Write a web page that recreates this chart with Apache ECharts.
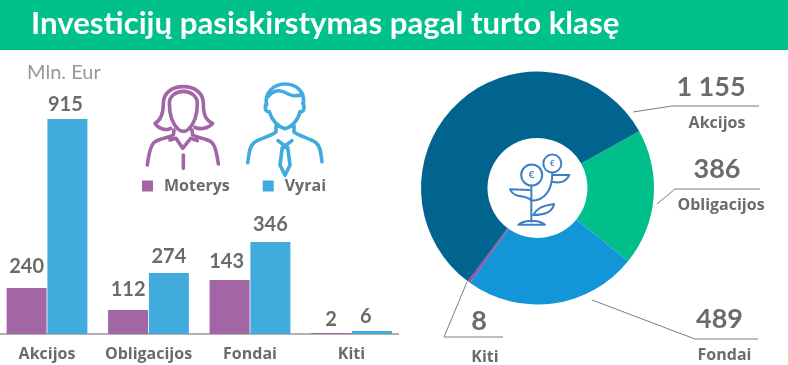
<!DOCTYPE html>
<html><head><meta charset="utf-8">
<style>html,body{margin:0;padding:0;background:#fff}#c{width:788px;height:365px}</style>
<script src="https://cdn.jsdelivr.net/npm/echarts@6/dist/echarts.min.js"></script>
</head><body><div id="c"></div>
<script>
const titleText = 'Investicijų pasiskirstymas pagal turto klasę';
const unitText = 'Mln. Eur';
const categories = ['Akcijos', 'Obligacijos', 'Fondai', 'Kiti'];
const seriesNames = ['Moterys', 'Vyrai'];
// printed values
const womenValues = [240, 112, 143, 2];
const menValues = [915, 274, 346, 6];
// the reference's bars are not proportional to their printed values: these are the drawn heights
const womenDrawn = [196, 102, 230, 4];
const menDrawn = [915, 260, 391, 13];
// donut
const pieNames = ['Obligacijos', 'Fondai', 'Kiti', 'Akcijos'];
const pieValues = [386, 489, 8, 1155];
const pieText = ['386', '489', '8', '1 155'];

const GREY = '#6d6b6a', NUM = 'Lato', TXT = 'Open Sans', WOMAN = '#A266A6', MAN = '#41ABDE', PLANT = '#3b7fc4';
const pieColors = ['#00BF8A', '#1296D8', '#9B4FA0', '#00648F'];
// label anchor centre, and the horizontal shift of the name under the number
const pieLabelPos = [[717, 187, 4], [719.5, 337, 5], [479, 339, 6], [711, 105, 6]];
const womenLabelShift = [[0, -5], [0, -4], [-3, -2], [0, 2]];
const menLabelShift = [[-2, 2], [0, 0], [0, -2], [-6, 2]];
const womanIcon = 'M105 160C125 150 130 130 130 100C130 70 155 50 190 50C225 50 250 70 250 100C250 130 255 150 278 160C265 175 240 180 225 172M105 160C115 178 140 182 152 175M148 100C148 78 168 64 190 64C212 64 232 78 232 100C232 130 225 160 205 178C195 186 185 186 175 178C155 160 148 130 148 100M82 285C85 260 90 225 105 215C120 205 140 205 160 195L162 180M295 282C292 260 288 225 273 215C258 205 238 205 218 195L216 180M150 210L168 205L188 235L212 205L232 212M190 255L190 295';
const manIcon = 'M440 105C432 70 460 42 495 42C530 42 556 65 550 105M442 82C470 50 490 65 505 72C520 80 535 78 548 72M440 100C433 108 435 128 448 125C455 150 475 172 495 176C515 172 535 150 540 125C553 128 555 108 548 100M468 168L468 186C450 200 420 205 402 218C388 228 388 250 383 278M522 168L522 186C540 200 570 205 588 218C602 228 602 250 606 275M474 212L495 228L516 212M487 232L480 285L495 316L510 285L503 232Z';
const plantIcon = 'M184 167L184 275M184 212C225 212 247 180 247 128M184 212C170 190 135 210 120 178L178 180M190 255C205 222 245 225 252 222C248 245 225 255 190 255M247 156C262 158 285 162 298 135L250 135M145 284C165 268 205 268 225 284Z';

echarts.graphic.registerShape('womanIcon', echarts.graphic.extendPath(womanIcon, {}));
echarts.graphic.registerShape('manIcon', echarts.graphic.extendPath(manIcon, {}));
echarts.graphic.registerShape('plantIcon', echarts.graphic.extendPath(plantIcon, {}));

const chart = echarts.init(document.getElementById('c'));
const pieData = pieNames.map((name, i) => ({
  name, value: pieValues[i], itemStyle: {color: pieColors[i]},
  label: {rich: {
    v: {fontFamily: NUM, fontWeight: 700, fontSize: 27, color: GREY, lineHeight: 37},
    n: {fontFamily: TXT, fontWeight: 700, fontSize: 16, color: GREY, lineHeight: 36, padding: [0, 0, 0, pieLabelPos[i][2] * 2]}
  }}
}));
const barData = (drawn, shift) => drawn.map((value, i) => ({value, label: {offset: shift[i]}}));
const barLabel = texts => ({
  show: true, position: 'top', distance: 6, fontFamily: NUM, fontWeight: 700, fontSize: 20, color: GREY,
  formatter: p => String(texts[p.dataIndex])
});
const line = pts => ({type: 'polyline', silent: true, shape: {points: pts}, style: {stroke: '#7d7b7a', fill: null, lineWidth: 1}});
const icon = (type, x, y, color, lw) => ({type, silent: true, x, y, scaleX: 1 / 3, scaleY: 1 / 3,
  style: {stroke: color, fill: null, lineWidth: lw * 3, lineCap: 'round', lineJoin: 'round'}});

chart.setOption({
  animation: false,
  title: [
    {text: titleText, left: 31, top: 8, padding: 0, textStyle: {color: '#fff', fontFamily: NUM, fontWeight: 700, fontSize: 31.2}},
    {text: unitText, left: 27, top: 63, padding: 0, textStyle: {color: '#9a9896', fontFamily: NUM, fontWeight: 400, fontSize: 20}}
  ],
  legend: {left: 142, top: 178, padding: 0, itemWidth: 11, itemHeight: 11, itemGap: 33, icon: 'rect',
    data: seriesNames, selectedMode: false,
    textStyle: {fontFamily: TXT, fontWeight: 700, fontSize: 16, color: GREY, padding: [0, 0, 0, 6]}},
  grid: {left: -3.75, width: 406, top: 99, height: 235, outerBoundsMode: 'none'},
  xAxis: {type: 'category', data: categories, axisLine: {show: false}, axisTick: {show: false},
    axisLabel: {fontFamily: TXT, fontWeight: 700, fontSize: 16, color: GREY, margin: 12, interval: 0}},
  yAxis: {type: 'value', min: 0, max: 1000, show: false},
  series: [
    {type: 'bar', name: seriesNames[0], data: barData(womenDrawn, womenLabelShift), barWidth: 40, barGap: '2%', itemStyle: {color: WOMAN}, label: barLabel(womenValues)},
    {type: 'bar', name: seriesNames[1], data: barData(menDrawn, menLabelShift), barWidth: 40, itemStyle: {color: MAN}, label: barLabel(menValues)},
    {type: 'pie', center: [537.5, 188], radius: [50, 116.5], startAngle: 29.2, clockwise: true, silent: true,
      avoidLabelOverlap: false, data: pieData,
      label: {show: true, position: 'outside', align: 'center', verticalAlign: 'middle',
        formatter: p => '{v|' + pieText[p.dataIndex] + '}\n{n|' + p.name + '}'},
      labelLine: {show: false},
      labelLayout: p => ({x: pieLabelPos[p.dataIndex][0], y: pieLabelPos[p.dataIndex][1], align: 'center', verticalAlign: 'middle'})}
  ],
  graphic: [
    {type: 'rect', z: 0, silent: true, shape: {x: 0, y: 0, width: 788, height: 50}, style: {fill: '#00C08B'}},
    {type: 'line', silent: true, shape: {x1: 0, y1: 334, x2: 399, y2: 334}, style: {stroke: '#b4b2b1', lineWidth: 2}},
    line([[633, 112], [672, 106], [759, 106]]),
    line([[657, 204], [675, 189], [760, 189]]),
    line([[592, 300], [695, 339], [758, 339]]),
    line([[467, 282], [444, 337], [503, 337]]),
    icon('womanIcon', 120, 70, WOMAN, 3.6),
    icon('manIcon', 120, 70, MAN, 3.6),
    icon('plantIcon', 470, 130, PLANT, 2),
    {type: 'circle', silent: true, shape: {cx: 531.7, cy: 175, r: 10.5}, style: {stroke: PLANT, fill: '#fff', lineWidth: 2}},
    {type: 'circle', silent: true, shape: {cx: 552.3, cy: 163.5, r: 9}, style: {stroke: PLANT, fill: '#fff', lineWidth: 2}},
    {type: 'text', silent: true, style: {x: 531.7, y: 175, text: '€', fill: PLANT, font: '700 10px Lato', align: 'center', verticalAlign: 'middle'}},
    {type: 'text', silent: true, style: {x: 552.3, y: 163.5, text: '€', fill: PLANT, font: '700 8px Lato', align: 'center', verticalAlign: 'middle'}}
  ]
});
</script></body></html>
